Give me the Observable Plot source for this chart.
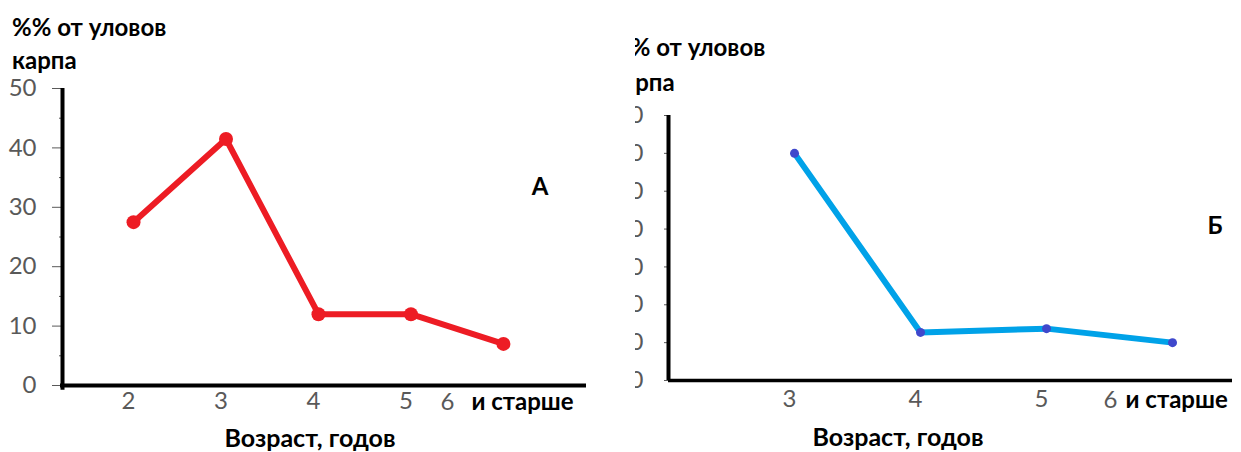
<!DOCTYPE html>
<html>
<head>
<meta charset="utf-8">
<script src="https://cdn.jsdelivr.net/npm/d3@7"></script>
<script src="https://cdn.jsdelivr.net/npm/@observablehq/plot@0.6"></script>
<style>
  html, body { margin: 0; padding: 0; background: #fff; }
  #wrap { position: relative; width: 1241px; height: 452px; overflow: hidden; background: #fff; font-family: Lato, "Open Sans", sans-serif; }
  .abs { position: absolute; white-space: nowrap; }
  .t { font-weight: bold; color: #000; font-size: 24px; line-height: 1; }
  .c { transform: translate(-50%, -50%); }
  .big { font-size: 25px; }
  #clipB { position: absolute; left: 635px; top: 0; width: 606px; height: 452px; overflow: hidden; }
  #innerB { position: absolute; left: -35px; top: 0; width: 641px; height: 452px; }
  svg { position: absolute; left: 0; top: 0; }
</style>
</head>
<body>
<div id="wrap">
  <div id="plotA" class="abs" style="left:0;top:0;width:620px;height:452px;"></div>
  <div class="abs t" style="left:12px;top:15px;">%% от уловов</div>
  <div class="abs t" style="left:12px;top:48px;">карпа</div>
  <div class="abs t c" style="left:540px;top:186px;">А</div>
  <div class="abs t c big" style="left:310px;top:437px;">Возраст, годов</div>
  <div id="clipB">
    <div id="innerB">
      <div id="plotB" class="abs" style="left:0;top:0;width:641px;height:452px;"></div>
      <div class="abs t" style="left:11px;top:35px;">%% от уловов</div>
      <div class="abs t" style="left:10px;top:70px;">карпа</div>
    </div>
  </div>
  <div class="abs t c" style="left:1215px;top:225px;">Б</div>
  <div class="abs t c big" style="left:898px;top:436px;">Возраст, годов</div>
</div>
<script>
// ---- data ----
const agesA = [2, 3, 4, 5, 6];
const valuesA = [27.5, 41.5, 12, 12, 7];
const agesB = [3, 4, 5, 6];
const valuesB = [60, 12.7, 13.7, 10];
const xTicksA = [2, 3, 4, 5];
const xTicksB = [3, 4, 5];
const lastAgeLabel = "6";
const lastAgeSuffix = "и старше";
const yTicksA = [0, 10, 20, 30, 40, 50];
const yMinorA = [5, 15, 25, 35, 45];
const yTicksB = [0, 10, 20, 30, 40, 50, 60, 70];

const dataA = agesA.map((a, i) => ({age: a, value: valuesA[i]}));
const dataB = agesB.map((a, i) => ({age: a, value: valuesB[i]}));

const font = "Lato, 'Open Sans', sans-serif";
const grey = "#595959";
const fmt = d => String(d);

// ---- chart A ----
const xDomA = [1.232, 6.92];
const plotA = Plot.plot({
  width: 620, height: 452,
  marginLeft: 62, marginRight: 32, marginTop: 88, marginBottom: 67,
  style: {fontFamily: font, background: "transparent", overflow: "visible"},
  x: {domain: xDomA, axis: null},
  y: {domain: [0, 50], axis: null},
  marks: [
    Plot.axisY(yTicksA, {tickSize: 10, tickPadding: 16, fontSize: 24, color: grey, label: null, tickFormat: fmt}),
    Plot.axisY(yMinorA, {tickSize: 3, tickFormat: () => "", color: grey, label: null}),
    Plot.axisX(xTicksA, {tickSize: 0, tickPadding: 6, fontSize: 24, color: grey, dx: -5, label: null, tickFormat: fmt}),
    Plot.text([lastAgeLabel], {x: () => agesA[agesA.length - 1], frameAnchor: "bottom", dy: 17, dx: -56, text: d => d, fontSize: 24, fill: grey, lineAnchor: "middle"}),
    Plot.text([lastAgeSuffix], {x: () => agesA[agesA.length - 1], frameAnchor: "bottom", dy: 17, dx: -32, text: d => d, fontSize: 24, fontWeight: "bold", fill: "#000", textAnchor: "start", lineAnchor: "middle"}),
    Plot.ruleY([0], {stroke: "#000", strokeWidth: 4, x1: xDomA[0], x2: xDomA[1], dx: -2}),
    Plot.ruleX([xDomA[0]], {stroke: "#000", strokeWidth: 4, y1: -0.8, y2: 50}),
    Plot.line(dataA, {x: "age", y: "value", stroke: "#ed1c24", strokeWidth: 6, strokeLinejoin: "round", strokeLinecap: "round"}),
    Plot.dot(dataA, {x: "age", y: "value", r: 7, fill: "#ed1c24", stroke: "none"})
  ]
});
document.getElementById("plotA").append(plotA);

// ---- chart B ----
const xDomB = [2.0, 6.476];
const plotB = Plot.plot({
  width: 641, height: 452,
  marginLeft: 68, marginRight: 9, marginTop: 115, marginBottom: 72,
  style: {fontFamily: font, background: "transparent", overflow: "visible"},
  x: {domain: xDomB, axis: null},
  y: {domain: [0, 70], axis: null},
  marks: [
    Plot.axisY(yTicksB, {tickSize: 4, tickPadding: 21, fontSize: 24, color: grey, label: null, tickFormat: fmt}),
    Plot.axisX(xTicksB, {tickSize: 0, tickPadding: 9, fontSize: 24, color: grey, dx: -5, label: null, tickFormat: fmt}),
    Plot.text([lastAgeLabel], {x: () => agesB[agesB.length - 1], frameAnchor: "bottom", dy: 20, dx: -62, text: d => d, fontSize: 24, fill: grey, lineAnchor: "middle"}),
    Plot.text([lastAgeSuffix], {x: () => agesB[agesB.length - 1], frameAnchor: "bottom", dy: 20, dx: -47, text: d => d, fontSize: 24, fontWeight: "bold", fill: "#000", textAnchor: "start", lineAnchor: "middle"}),
    Plot.ruleY([0], {stroke: "#000", strokeWidth: 3.5, x1: xDomB[0], x2: xDomB[1]}),
    Plot.ruleX([xDomB[0]], {stroke: "#000", strokeWidth: 4, y1: 0, y2: 70}),
    Plot.line(dataB, {x: "age", y: "value", stroke: "#00a2e8", strokeWidth: 6, strokeLinejoin: "round"}),
    Plot.dot(dataB, {x: "age", y: "value", r: 4.5, fill: "#3f48cc", stroke: "none"})
  ]
});
document.getElementById("plotB").append(plotB);
</script>
</body>
</html>
